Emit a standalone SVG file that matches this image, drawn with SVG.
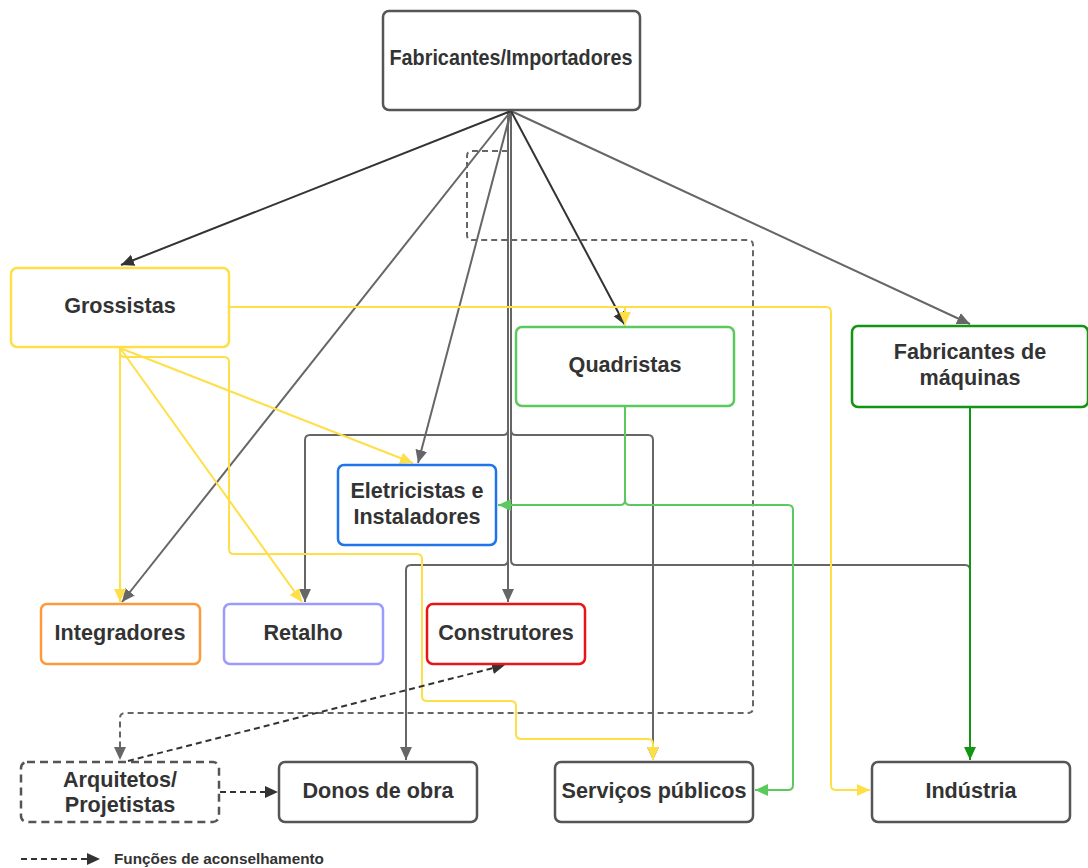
<svg xmlns="http://www.w3.org/2000/svg" width="1088" height="868" viewBox="0 0 1088 868">
<style>
.n{fill:#fff;stroke-width:2.5}
.t{font-family:"Liberation Sans",Arial,sans-serif;font-weight:bold;font-size:21.6px;fill:#333;text-anchor:middle}
.c{fill:none;stroke-width:2}
.g{stroke:#666}
.d{stroke:#333}
.y{stroke:#ffdf47}
.lg{stroke:#5cc95f}
.dg{stroke:#139413}
.dash{stroke-dasharray:6 4}
</style>
<defs>
<marker id="aG" viewBox="0 0 12 12" refX="12" refY="6" markerWidth="13" markerHeight="13" markerUnits="userSpaceOnUse" orient="auto"><path d="M0,0.5 L12,6 L0,11.5 z" fill="#666"/></marker>
<marker id="aD" viewBox="0 0 12 12" refX="12" refY="6" markerWidth="13" markerHeight="13" markerUnits="userSpaceOnUse" orient="auto"><path d="M0,0.5 L12,6 L0,11.5 z" fill="#333"/></marker>
<marker id="aY" viewBox="0 0 12 12" refX="12" refY="6" markerWidth="13" markerHeight="13" markerUnits="userSpaceOnUse" orient="auto"><path d="M0,0.5 L12,6 L0,11.5 z" fill="#ffdf47"/></marker>
<marker id="aLG" viewBox="0 0 12 12" refX="12" refY="6" markerWidth="13" markerHeight="13" markerUnits="userSpaceOnUse" orient="auto"><path d="M0,0.5 L12,6 L0,11.5 z" fill="#5cc95f"/></marker>
<marker id="aDG" viewBox="0 0 12 12" refX="12" refY="6" markerWidth="13" markerHeight="13" markerUnits="userSpaceOnUse" orient="auto"><path d="M0,0.5 L12,6 L0,11.5 z" fill="#139413"/></marker>
</defs>

<g id="connectors">
<!-- gray / dark from Fabricantes/Importadores -->
<path class="c g" d="M511,111 L970,324" marker-end="url(#aG)"/>
<path class="c g" d="M511,111 V560 Q511,565 516,565 H965 Q970,565 970,570 V740"/>
<path class="c g" d="M511,111 V430 Q511,435 516,435 H648 Q653,435 653,440 V760" marker-end="url(#aG)"/>
<path class="c g" d="M508,111 V560 Q508,565 503,565 H411 Q406,565 406,570 V760" marker-end="url(#aG)"/>
<path class="c g" d="M508,111 V430 Q508,435 503,435 H310 Q305,435 305,440 V602" marker-end="url(#aG)"/>
<path class="c g" d="M510,111 L508,125 V602" marker-end="url(#aG)"/>
<path class="c g" d="M511,111 L122,602" marker-end="url(#aG)"/>
<path class="c g" d="M511,111 L418,463" marker-end="url(#aG)"/>
<path class="c d" d="M511,111 L121,265" marker-end="url(#aD)"/>
<path class="c d" d="M511,111 L625,325" marker-end="url(#aD)"/>
<!-- dashed advisory -->
<path class="c g dash" d="M508,151 H472 Q467,151 467,156 V235 Q467,240 472,240 H748 Q753,240 753,245 V708 Q753,713 748,713 H125 Q120,713 120,718 V760" marker-end="url(#aG)"/>
<!-- yellow from Grossistas -->
<path class="c y" d="M120,347 V352 Q120,357 125,357 H224 Q229,357 229,362 V549 Q229,554 234,554 H417 Q422,554 422,559 V696 Q422,701 427,701 H511 Q516,701 516,706 V734 Q516,739 521,739 H648 Q653,739 653,744 V760" marker-end="url(#aY)"/>
<path class="c y" d="M229,307 H826 Q831,307 831,312 V785 Q831,790 836,790 H870" marker-end="url(#aY)"/>
<path class="c y" d="M625,307 V325" marker-end="url(#aY)"/>
<path class="c y" d="M120,347 V602" marker-end="url(#aY)"/>
<path class="c y" d="M120,348 L302,602" marker-end="url(#aY)"/>
<path class="c y" d="M120,348 L413,463" marker-end="url(#aY)"/>
<!-- green from Quadristas -->
<path class="c lg" d="M625,406 V500 Q625,505 620,505 H498" marker-end="url(#aLG)"/>
<path class="c lg" d="M625,500 Q625,505 630,505 H788 Q793,505 793,510 V785 Q793,790 788,790 H755" marker-end="url(#aLG)"/>
<!-- dark green from Fabricantes de máquinas -->
<path class="c dg" d="M970,406 V760" marker-end="url(#aDG)"/>
<!-- dark dashed advisory -->
<path class="c d dash" d="M128,761 L505,665" marker-end="url(#aD)"/>
<path class="c d dash" d="M220,792 L278,792" marker-end="url(#aD)"/>
</g>

<g id="fabricantes-importadores">
<rect class="n" x="383" y="11" width="257" height="99" rx="6" stroke="#555"/>
<text class="t" x="511" y="65" textLength="243" lengthAdjust="spacingAndGlyphs">Fabricantes/Importadores</text>
</g>
<g id="grossistas">
<rect class="n" x="11" y="268" width="218" height="79" rx="6" stroke="#ffdf47"/>
<text class="t" x="120" y="313">Grossistas</text>
</g>
<g id="quadristas">
<rect class="n" x="516" y="327" width="218" height="79" rx="6" stroke="#5cc95f"/>
<text class="t" x="625" y="372">Quadristas</text>
</g>
<g id="fabricantes-maquinas">
<rect class="n" x="852" y="326" width="236" height="81" rx="6" stroke="#139413"/>
<text class="t" x="970" y="359">Fabricantes de</text>
<text class="t" x="970" y="385">máquinas</text>
</g>
<g id="eletricistas">
<rect class="n" x="338" y="465" width="158" height="80" rx="6" stroke="#1e74e8"/>
<text class="t" x="417" y="498">Eletricistas e</text>
<text class="t" x="417" y="524">Instaladores</text>
</g>
<g id="integradores">
<rect class="n" x="41" y="604" width="159" height="60" rx="6" stroke="#ff9a3c"/>
<text class="t" x="120" y="640">Integradores</text>
</g>
<g id="retalho">
<rect class="n" x="224" y="604" width="159" height="60" rx="6" stroke="#9a9aff"/>
<text class="t" x="303" y="640">Retalho</text>
</g>
<g id="construtores">
<rect class="n" x="427" y="604" width="158" height="60" rx="6" stroke="#e81416"/>
<text class="t" x="506" y="640">Construtores</text>
</g>
<g id="arquitetos">
<rect class="n" x="21" y="762" width="198" height="60" rx="6" stroke="#555" stroke-dasharray="8 5"/>
<text class="t" x="120" y="787">Arquitetos/</text>
<text class="t" x="120" y="812">Projetistas</text>
</g>
<g id="donos-de-obra">
<rect class="n" x="279" y="762" width="198" height="60" rx="6" stroke="#555"/>
<text class="t" x="378" y="798">Donos de obra</text>
</g>
<g id="servicos-publicos">
<rect class="n" x="555" y="762" width="198" height="60" rx="6" stroke="#555"/>
<text class="t" x="654" y="798">Serviços públicos</text>
</g>
<g id="industria">
<rect class="n" x="872" y="762" width="198" height="60" rx="6" stroke="#555"/>
<text class="t" x="971" y="798">Indústria</text>
</g>
<g id="legend">
<path class="c d dash" d="M21,859 H100" marker-end="url(#aD)"/>
<text x="114" y="864" font-family="Liberation Sans, Arial, sans-serif" font-weight="bold" font-size="15.3" fill="#333">Funções de aconselhamento</text>
</g>
</svg>
